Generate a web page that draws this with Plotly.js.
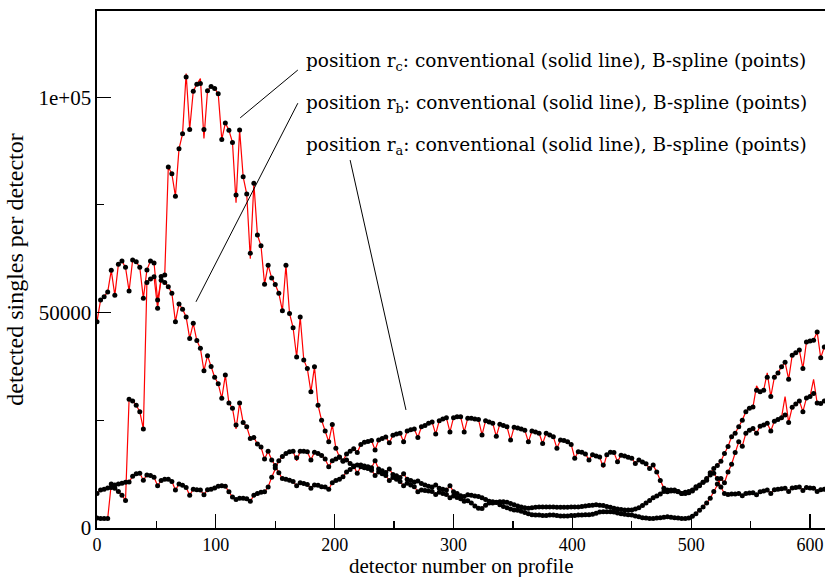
<!DOCTYPE html>
<html>
<head>
<meta charset="utf-8">
<script src="https://cdn.plot.ly/plotly-3.0.1.min.js"></script>
<style>
  html, body { margin: 0; padding: 0; background: #fff; }
  #chart { width: 825px; height: 577px; }
</style>
</head>
<body>
<div id="chart"></div>
<script>
// Detector numbers along the profile (every third detector)
const detectors = [];
for (let d = 0; d <= 612; d += 3) detectors.push(d);

// B-spline reconstruction, position r_a (detected singles per detector)
const bsplineA = [
  8000, 8800, 9000, 9300, 9400, 10000, 10200, 10400, 10600, 10700,
  12000, 12600, 12700, 11100, 12300, 12200, 11800, 9800, 11000, 11300,
  11300, 10800, 8800, 10200, 9900, 9400, 7600, 9000, 8900, 8800,
  7700, 8900, 9000, 9300, 9700, 9800, 9700, 8400, 7200, 6600,
  6900, 6900, 6800, 6200, 7600, 8000, 8300, 8400, 9500, 11800,
  13900, 15600, 16600, 17300, 17700, 17800, 16300, 17800, 17800, 17700,
  15800, 17600, 17300, 16800, 16000, 14200, 15600, 16000, 16400, 15600,
  17200, 17800, 18400, 17500, 19400, 19900, 20100, 20300, 18100, 20400,
  20800, 21100, 19800, 21500, 21800, 22000, 20000, 22500, 22800, 23000,
  21000, 23500, 23800, 24300, 24600, 21800, 24900, 25300, 25600, 22300,
  25600, 25800, 25800, 22300, 25500, 25500, 25300, 25200, 21600, 24900,
  24600, 24300, 21300, 24100, 23800, 23500, 20400, 23400, 23200, 23000,
  22700, 20000, 22500, 22300, 22000, 19600, 22000, 21600, 21200, 18500,
  20400, 20300, 20000, 19400, 16200, 17700, 17600, 17200, 15800, 17000,
  16700, 16500, 14600, 17000, 17600, 17500, 15400, 16900, 16700, 16400,
  16200, 15000, 15800, 15300, 14900, 13800, 14600, 13000, 11000, 9200,
  8400, 8600, 8800, 8500, 8000, 8000, 8200, 8600, 9200, 9800,
  10600, 11500, 12300, 12700, 11500, 9500, 8000, 7800, 7900, 7900,
  8000, 7500, 8000, 8100, 8200, 7700, 8400, 8600, 8800, 8000,
  8900, 9000, 9100, 9200, 8500, 9300, 9400, 9500, 8700, 9400,
  9300, 9200, 8500, 8900, 9000
];

// B-spline reconstruction, position r_b
const bsplineB = [
  47900, 52900, 53700, 54800, 59800, 54000, 61200, 62000, 60500, 55000,
  62200, 61800, 60500, 53300, 59900, 62000, 61500, 52900, 57500, 57000,
  56000, 54500, 47900, 52000, 50800, 49000, 44000, 47500, 43500, 41700,
  36500, 40000, 37500, 35000, 33500, 30100, 35500, 29000, 27800, 23900,
  29000, 24500, 23500, 20800, 21000, 19500, 18800, 16000, 17800, 15800,
  14500, 12800, 11500, 11300, 11100, 10800, 9800, 10500, 10300, 10100,
  9200, 10000, 9900, 9600, 9500, 9000, 10500, 11000, 11300, 11900,
  13000, 13600, 14200, 14600, 14600, 14400, 14200, 14000, 15600, 13700,
  13300, 12900, 13700, 12400, 12100, 11700, 12600, 11300, 11000, 10700,
  10900, 10300, 10000, 9700, 9500, 10000, 9200, 9000, 8800, 9800,
  8400, 8000, 7500, 7300, 7700, 7600, 7400, 7300, 7000, 6600,
  6200, 5800, 5900, 6100, 6100, 6000, 5700, 5400, 5100, 4900,
  4700, 4600, 4700, 4800, 4900, 4900, 4900, 4900, 4900, 4800,
  4800, 4800, 4800, 4900, 4900, 4900, 5000, 5100, 5200, 5300,
  5400, 5300, 5200, 5000, 4800, 4600, 4400, 4300, 4200, 4200,
  4200, 4400, 4700, 5200, 5800, 6400, 7000, 7400, 7900, 8500,
  8800, 8800, 8600, 8400, 8000, 8300, 8500, 8800, 9600, 10000,
  10600, 11100, 12800, 13800, 14500, 15500, 17300, 18900, 21200, 22000,
  23500, 25000, 27000, 27800, 28100, 32000, 31600, 32000, 35000, 30500,
  35000, 36000, 37400, 38500, 34500, 40100, 40700, 41300, 37000, 43200,
  43400, 43600, 45500, 39500, 42000
];

// B-spline reconstruction, position r_c
const bsplineC = [
  2300, 2200, 2200, 2200, 10200, 9200, 8500, 7600, 6400, 29900,
  29500, 28500, 27000, 23000, 57000, 57800, 58300, 51000, 58400, 58700,
  83800, 82200, 77000, 88000, 91500, 104700, 92500, 101400, 103000, 103200,
  92500, 101500, 102500, 102000, 100800, 90200, 94000, 92300, 89500, 77300,
  92400, 81500, 77500, 63800, 80000, 68000, 65500, 56600, 61000, 58000,
  56500, 54500, 50400, 61000, 49800, 46500, 39700, 49000, 39000, 37000,
  31600, 37400, 28500, 25000, 22500, 20000, 24000, 18500, 16500, 15500,
  15800, 15000, 14400, 12700, 14200, 14000, 13800, 13400, 12200, 13000,
  12600, 12200, 11000, 11700, 11300, 10800, 9800, 10400, 10000, 9600,
  8400, 8800, 8700, 8600, 8500, 7800, 8300, 8000, 7800, 7000,
  7400, 7100, 6800, 6200, 6300, 5800, 5100, 4600, 4500, 5300,
  5800, 6100, 6000, 5400, 5000, 4700, 4400, 4200, 4100, 3900,
  3600, 3300, 3100, 3000, 3000, 2900, 2900, 3000, 3000, 2900,
  2800, 2800, 2800, 2900, 2900, 3000, 3000, 3100, 3100, 3200,
  3400, 3700, 3800, 3800, 3800, 3700, 3500, 3300, 3200, 3100,
  3000, 2800, 2600, 2400, 2300, 2200, 2200, 2300, 2400, 2500,
  2600, 2500, 2400, 2300, 2200, 2200, 2300, 2700, 3300, 4100,
  4900, 5800, 6900, 8500, 10200, 11500, 10500, 13000, 14800, 17500,
  20000, 19000, 22000, 22700, 23100, 22000, 23600, 23900, 24300, 22500,
  24800, 25200, 25600, 26200, 24500, 28000, 28800, 29500, 27000, 30200,
  30500, 31200, 29000, 28900, 29500
];

// Conventional reconstruction: same profile except where it departs from the B-spline
// [detector, value]
const convDiffA = [[168, 15600], [426, 14000]];
const convDiffB = [[117, 23000], [555, 33000], [564, 36000]];
const convDiffC = [[75, 105500], [87, 104300], [90, 90400], [117, 75500], [129, 62500], [579, 30500], [603, 34500]];

function conventional(bspline, diffs) {
  const out = bspline.slice();
  diffs.forEach(([det, v]) => { out[detectors.indexOf(det)] = v; });
  return out;
}

const positions = [
  { name: 'r_c', bs: bsplineC, conv: conventional(bsplineC, convDiffC) },
  { name: 'r_b', bs: bsplineB, conv: conventional(bsplineB, convDiffB) },
  { name: 'r_a', bs: bsplineA, conv: conventional(bsplineA, convDiffA) }
];

const traces = [];
positions.forEach(p => traces.push({
  x: detectors, y: p.conv, type: 'scatter', mode: 'lines',
  line: { color: '#ff0000', width: 1.2 }, hoverinfo: 'skip', showlegend: false
}));
positions.forEach(p => traces.push({
  x: detectors, y: p.bs, type: 'scatter', mode: 'markers',
  marker: { color: '#000000', size: 5 }, showlegend: false
}));

const serif = 'Liberation Serif, Times New Roman, serif';
const labelFont = 'DejaVu Serif, serif';
const labelLines = [
  { text: 'position r<sub>c</sub>: conventional (solid line), B-spline (points)', y: 108200 },
  { text: 'position r<sub>b</sub>: conventional (solid line), B-spline (points)', y: 98400 },
  { text: 'position r<sub>a</sub>: conventional (solid line), B-spline (points)', y: 88700 }
];

const annotations = labelLines.map(l => ({
  x: 174.5, y: l.y, xref: 'x', yref: 'y', xanchor: 'left', yanchor: 'middle',
  text: l.text, showarrow: false, font: { family: labelFont, size: 18.5, color: '#000' }
}));
// x-axis title, placed below the tick labels
annotations.push({
  x: 0.5, y: -0.074, xref: 'paper', yref: 'paper', xanchor: 'center', yanchor: 'middle',
  text: 'detector number on profile', showarrow: false, font: { family: serif, size: 21, color: '#000' }
});

const layout = {
  width: 825, height: 577,
  margin: { l: 97, r: 0, t: 11, b: 49 },
  paper_bgcolor: '#ffffff', plot_bgcolor: '#ffffff',
  font: { family: serif, color: '#000', size: 18 },
  xaxis: {
    range: [0, 612.6], showgrid: false, zeroline: false,
    showline: true, linecolor: '#000', linewidth: 1.6, mirror: true,
    ticks: 'inside', ticklen: 14, tickwidth: 1.2, tickcolor: '#000',
    tickvals: [0, 100, 200, 300, 400, 500, 600],
    minor: { tickvals: [50, 150, 250, 350, 450, 550], ticks: 'inside', ticklen: 7, tickcolor: '#000', tickwidth: 1.2 },
    tickfont: { family: serif, size: 18 },
    automargin: false
  },
  yaxis: {
    range: [0, 120000], showgrid: false, zeroline: false,
    showline: true, linecolor: '#000', linewidth: 1.6, mirror: false,
    ticks: 'inside', ticklen: 14, tickwidth: 1.2, tickcolor: '#000',
    tickvals: [0, 50000, 100000], ticktext: ['0', '50000', '1e+05'],
    minor: { tickvals: [25000, 75000], ticks: 'inside', ticklen: 7, tickcolor: '#000', tickwidth: 1.2 },
    tickfont: { family: serif, size: 21 },
    title: { text: 'detected singles per detector', font: { family: serif, size: 24 }, standoff: 8 },
    automargin: false
  },
  shapes: [
    { type: 'line', xref: 'x', yref: 'y', x0: 169, y0: 106300, x1: 120.5, y1: 95200, line: { color: '#000', width: 1 } },
    { type: 'line', xref: 'x', yref: 'y', x0: 169, y0: 98600, x1: 83.3, y1: 52500, line: { color: '#000', width: 1 } },
    { type: 'line', xref: 'x', yref: 'y', x0: 213, y0: 85400, x1: 260, y1: 27400, line: { color: '#000', width: 1 } }
  ],
  annotations: annotations
};

Plotly.newPlot('chart', traces, layout, { displayModeBar: false, staticPlot: true });
</script>
</body>
</html>
